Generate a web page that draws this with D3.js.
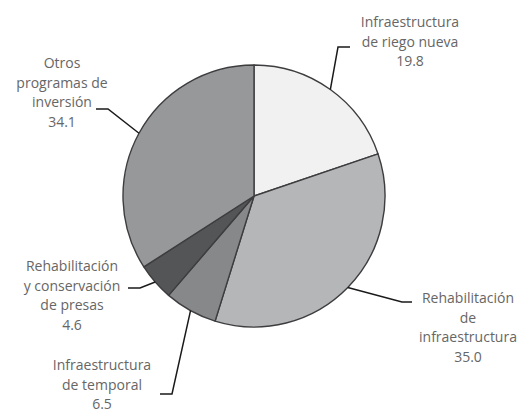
<!DOCTYPE html>
<html><head><meta charset="utf-8">
<script src="https://cdn.jsdelivr.net/npm/d3@7"></script>
<style>html,body{margin:0;padding:0;background:#fff;}svg{display:block;}</style>
</head><body>
<svg id="chart" width="522" height="411"></svg>
<script>
// Data
const categories = [
  "Infraestructura de riego nueva",
  "Rehabilitación de infraestructura",
  "Infraestructura de temporal",
  "Rehabilitación y conservación de presas",
  "Otros programas de inversión"
];
const values = [19.8, 35.0, 6.5, 4.6, 34.1];
const labelLines = [
  ["Infraestructura", "de riego nueva"],
  ["Rehabilitación", "de", "infraestructura"],
  ["Infraestructura", "de temporal"],
  ["Rehabilitación", "y conservación", "de presas"],
  ["Otros", "programas de", "inversión"]
];
const colors = ["#f1f1f1", "#b5b6b8", "#87888a", "#545557", "#97989a"];

// Layout (label elbows and text anchors)
const layout = [
  {ex: 338, ey: 47, tx: 350, lx: 410, ly: 27},
  {ex: 402, ey: 302, tx: 412, lx: 468, ly: 303},
  {ex: 172, ey: 394, tx: 160, lx: 102, ly: 370},
  {ex: 140, ey: 288, tx: 128, lx: 72, ly: 271},
  {ex: 108, ey: 109, tx: 96, lx: 62, ly: 68}
];
const lineH = 19.5;

const svg = d3.select("#chart");
const cx = 254, cy = 196, r = 131;
const g = svg.append("g").attr("transform", `translate(${cx},${cy})`);

const pie = d3.pie().sort(null).value(d => d)(values);
const arc = d3.arc().innerRadius(0).outerRadius(r);

g.selectAll("path.slice").data(pie).enter().append("path")
  .attr("class", "slice")
  .attr("d", arc)
  .attr("fill", (d, i) => colors[i])
  .attr("stroke", "#3d3d3f")
  .attr("stroke-width", 1.4)
  .attr("stroke-linejoin", "round");

// leader lines and labels
pie.forEach((d, i) => {
  const a = (d.startAngle + d.endAngle) / 2;
  const px = cx + Math.sin(a) * r, py = cy - Math.cos(a) * r;
  const L = layout[i];
  svg.append("polyline")
    .attr("points", `${px},${py} ${L.ex},${L.ey} ${L.tx},${L.ey}`)
    .attr("fill", "none").attr("stroke", "#1a1a1a").attr("stroke-width", 1.5);
  const t = svg.append("text")
    .attr("text-anchor", "middle")
    .attr("font-family", "Open Sans, sans-serif")
    .attr("font-size", 14)
    .attr("fill", "#666");
  const lines = labelLines[i].concat([values[i].toFixed(1)]);
  lines.forEach((s, k) => {
    t.append("tspan").attr("x", L.lx).attr("y", L.ly + k * lineH).text(s);
  });
});
</script>
</body></html>
